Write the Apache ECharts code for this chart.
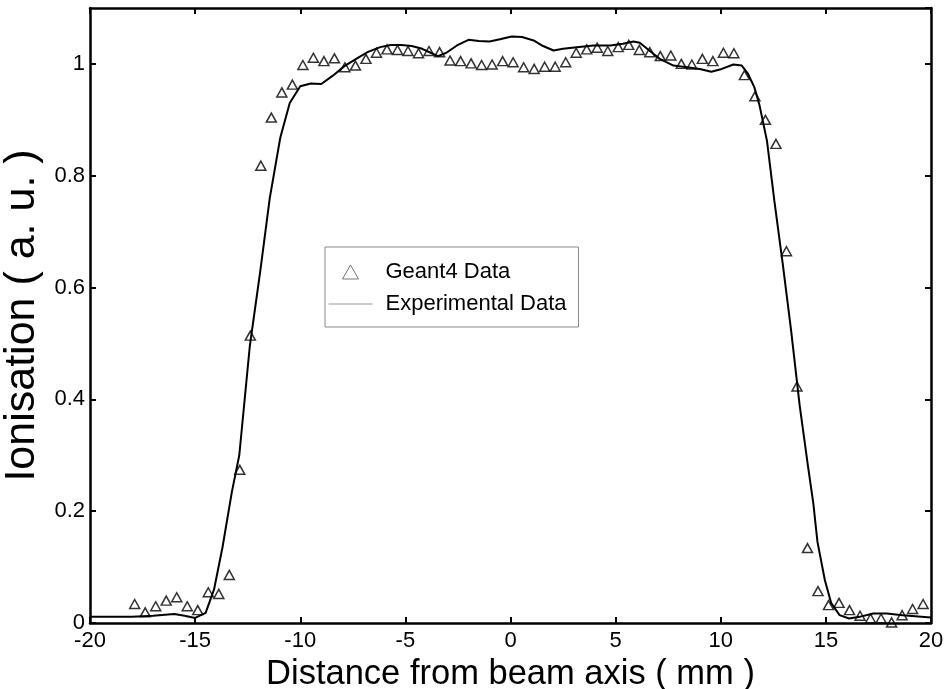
<!DOCTYPE html>
<html>
<head>
<meta charset="utf-8">
<script src="https://cdn.jsdelivr.net/npm/echarts@6/dist/echarts.min.js"></script>
<style>
  html, body { margin: 0; padding: 0; background: #fff; }
  #chart { width: 951px; height: 689px; }
</style>
</head>
<body>
<div id="chart"></div>
<script>
// Geant4 simulation points (mm, a.u.)
const geantX = [
  -17.875, -17.375, -16.875, -16.375, -15.875, -15.375, -14.875, -14.375, -13.875, -13.375,
  -12.875, -12.375, -11.875, -11.375, -10.875, -10.375, -9.875, -9.375, -8.875, -8.375,
  -7.875, -7.375, -6.875, -6.375, -5.875, -5.375, -4.875, -4.375, -3.875, -3.375,
  -2.875, -2.375, -1.875, -1.375, -0.875, -0.375, 0.125, 0.625, 1.125, 1.625,
  2.125, 2.625, 3.125, 3.625, 4.125, 4.625, 5.125, 5.625, 6.125, 6.625,
  7.125, 7.625, 8.125, 8.625, 9.125, 9.625, 10.125, 10.625, 11.125, 11.625,
  12.125, 12.625, 13.125, 13.625, 14.125, 14.625, 15.125, 15.625, 16.125, 16.625,
  17.125, 17.625, 18.125, 18.625, 19.125, 19.625
]
const geantY = [
  0.034, 0.019, 0.030, 0.040, 0.046, 0.030, 0.023, 0.055, 0.052, 0.086,
  0.274, 0.514, 0.818, 0.904, 0.949, 0.963, 0.998, 1.011, 1.005, 1.010,
  0.994, 0.997, 1.009, 1.020, 1.026, 1.025, 1.023, 1.019, 1.023, 1.021,
  1.006, 1.005, 1.001, 0.998, 0.999, 1.005, 1.003, 0.994, 0.991, 0.995,
  0.995, 1.003, 1.020, 1.026, 1.029, 1.023, 1.030, 1.034, 1.025, 1.021,
  1.014, 1.015, 1.000, 0.999, 1.009, 1.005, 1.020, 1.019, 0.980, 0.942,
  0.900, 0.857, 0.665, 0.423, 0.134, 0.057, 0.032, 0.036, 0.023, 0.013,
  0.008, 0.008, 0.001, 0.014, 0.025, 0.034
]

// measured profile
const expX = [
  -20, -19, -18, -17, -16, -15.5, -15, -14.5, -14.1, -13.7,
  -13.25, -12.9, -12.4, -11.9, -11.45, -10.95, -10.5, -10, -9.5, -9,
  -8.45, -7.9, -7.3, -6.8, -6.2, -5.7, -5.2, -4.7, -4.2, -3.8,
  -3.45, -3.05, -2.55, -2, -1.5, -1, -0.5, 0.05, 0.55, 1.1,
  1.55, 2.05, 2.5, 3.15, 3.95, 4.75, 5.35, 5.85, 6.15, 6.6,
  7.1, 7.75, 8.4, 9, 9.55, 10.05, 10.6, 11, 11.3, 11.6,
  11.85, 12.2, 12.55, 12.95, 13.35, 13.75, 14.15, 14.4, 14.6, 14.95,
  15.25, 15.65, 16.1, 16.6, 17.25, 17.9, 18.65, 20
]
const expY = [
  0.011, 0.011, 0.011, 0.013, 0.016, 0.013, 0.009, 0.018, 0.060, 0.135,
  0.235, 0.300, 0.495, 0.630, 0.760, 0.868, 0.930, 0.960, 0.965, 0.964,
  0.979, 0.996, 1.010, 1.021, 1.030, 1.034, 1.034, 1.032, 1.027, 1.020,
  1.014, 1.020, 1.033, 1.043, 1.041, 1.040, 1.044, 1.049, 1.048, 1.042,
  1.032, 1.024, 1.027, 1.030, 1.033, 1.033, 1.036, 1.040, 1.038, 1.024,
  1.009, 0.997, 0.994, 0.991, 0.986, 0.991, 0.999, 0.997, 0.982, 0.958,
  0.925, 0.862, 0.755, 0.642, 0.522, 0.390, 0.280, 0.215, 0.145, 0.077,
  0.036, 0.014, 0.008, 0.011, 0.017, 0.017, 0.014, 0.010
]

const font = 'Liberation Sans, Arial, sans-serif'

// box round the plot: black line, ticks pointing in
const frameAxis = {
  axisLine: { show: true, onZero: false, lineStyle: { color: '#000', width: 2.5 } },
  axisTick: { show: true, inside: true, length: 6, lineStyle: { color: '#000', width: 2 } },
  splitLine: { show: false }
}

const chart = echarts.init(document.getElementById('chart'))
chart.setOption({
  animation: false,
  backgroundColor: '#fff',
  grid: { left: 90, right: 20, top: 8, bottom: 66, outerBoundsMode: 'none', containLabel: false },
  legend: {
    orient: 'vertical',
    left: 325,
    top: 247,
    padding: [14, 12, 12, 3],
    itemGap: 10,
    itemWidth: 44,
    itemHeight: 16,
    borderColor: '#888',
    borderWidth: 1,
    textStyle: { fontFamily: font, fontSize: 22, lineHeight: 22, color: '#000', padding: [0, 0, 0, 8] },
    data: [
      {
        name: 'Geant4 Data',
        // triangle in the middle of a 44 x 16 box
        icon: 'path://M0,0M44,16M14,15L22,1L30,15Z',
        itemStyle: { color: 'rgba(0,0,0,0)', borderColor: '#555', borderWidth: 1 }
      },
      {
        name: 'Experimental Data',
        lineStyle: { color: '#999', width: 1 },
        itemStyle: { color: 'rgba(0,0,0,0)', borderColor: 'rgba(0,0,0,0)', borderWidth: 0 }
      }
    ]
  },
  xAxis: [
    {
      type: 'value', min: -20, max: 20, interval: 5,
      name: 'Distance from beam axis ( mm )',
      nameLocation: 'middle', nameGap: 24,
      nameTextStyle: { fontFamily: font, fontSize: 34.5, color: '#000' },
      axisLabel: { fontFamily: font, fontSize: 22, color: '#000', margin: 7 },
      ...frameAxis
    },
    {
      type: 'value', min: -20, max: 20, interval: 5, position: 'top',
      axisLabel: { show: false },
      ...frameAxis
    }
  ],
  yAxis: [
    {
      type: 'value', min: 0, max: 1.1, interval: 0.2,
      name: 'Ionisation ( a. u. )',
      nameLocation: 'middle', nameGap: 34,
      nameTextStyle: { fontFamily: font, fontSize: 43, color: '#000' },
      axisLabel: { fontFamily: font, fontSize: 22, color: '#000', margin: 5, showMaxLabel: false },
      ...frameAxis
    },
    {
      type: 'value', min: 0, max: 1.1, interval: 0.2, position: 'right',
      axisLabel: { show: false },
      ...frameAxis
    }
  ],
  series: [
    {
      name: 'Experimental Data',
      type: 'line',
      showSymbol: false,
      symbol: 'none',
      lineStyle: { color: '#000', width: 2 },
      data: expX.map((x, i) => [x, expY[i]]),
      z: 2
    },
    {
      name: 'Geant4 Data',
      type: 'scatter',
      symbol: 'triangle',
      symbolSize: [10, 9],
      itemStyle: { color: 'rgba(0,0,0,0)', borderColor: '#000', borderWidth: 1.5 },
      data: geantX.map((x, i) => [x, geantY[i]]),
      z: 3
    }
  ]
})
</script>
</body>
</html>
